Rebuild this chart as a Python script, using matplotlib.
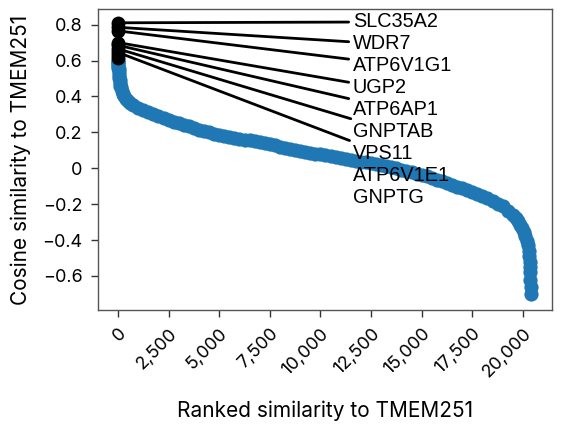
import matplotlib.pyplot as plt

# top-ranked genes (ranks 0..8) and their similarity
genes = ['SLC35A2', 'WDR7', 'ATP6V1G1', 'UGP2', 'ATP6AP1', 'GNPTAB', 'VPS11', 'ATP6V1E1', 'GNPTG']
gene_sim = [0.81, 0.785, 0.765, 0.70, 0.685, 0.665, 0.645, 0.63, 0.615]
n_linked = 7  # only the first seven labels have a connector line

# remaining genes
rank_rest = [9, 12, 16, 20, 25, 30, 40, 50, 65, 80, 100, 125, 150, 200, 250, 300, 400, 500,
             600, 750, 1000, 1250, 1500, 1750, 2000, 2250, 2500, 2750, 3000, 3250, 3500,
             3750, 4000, 4250, 4500, 4750, 5000, 5250, 5500, 5750, 6000, 6250, 6500, 6750,
             7000, 7250, 7500, 7750, 8000, 8250, 8500, 8750, 9000, 9250, 9500, 9750, 10000,
             10250, 10500, 10750, 11000, 11250, 11500, 11750, 12000, 12250, 12500, 12750,
             13000, 13250, 13500, 13750, 14000, 14250, 14500, 14750, 15000, 15250, 15500,
             15750, 16000, 16250, 16500, 16750, 17000, 17250, 17500, 17750, 18000, 18250,
             18500, 18750, 19000, 19250, 19500, 19650, 19750, 19850, 19950, 20050, 20125,
             20200, 20250, 20290, 20320, 20340, 20355, 20365, 20372, 20378, 20385]
sim_rest = [0.60, 0.59, 0.58, 0.57, 0.56, 0.55, 0.535, 0.52, 0.505, 0.49, 0.475, 0.46, 0.45,
            0.43, 0.415, 0.40, 0.385, 0.373, 0.364, 0.352, 0.338, 0.326, 0.315, 0.303, 0.292,
            0.281, 0.270, 0.260, 0.250, 0.241, 0.233, 0.224, 0.214, 0.207, 0.200, 0.193,
            0.187, 0.181, 0.176, 0.170, 0.165, 0.160, 0.155, 0.150, 0.144, 0.139, 0.133,
            0.127, 0.121, 0.115, 0.109, 0.103, 0.097, 0.092, 0.087, 0.082, 0.077, 0.072,
            0.067, 0.062, 0.057, 0.052, 0.047, 0.042, 0.037, 0.032, 0.027, 0.022, 0.017,
            0.011, 0.005, -0.001, -0.008, -0.015, -0.022, -0.030, -0.038, -0.046, -0.055,
            -0.064, -0.073, -0.082, -0.092, -0.102, -0.112, -0.122, -0.133, -0.144, -0.155,
            -0.168, -0.182, -0.197, -0.213, -0.236, -0.262, -0.280, -0.296, -0.315, -0.335,
            -0.357, -0.378, -0.405, -0.43, -0.46, -0.49, -0.52, -0.55, -0.58, -0.62, -0.66,
            -0.70]

label_x = 11600
label_y = [0.815, 0.693, 0.571, 0.449, 0.327, 0.205, 0.083, -0.039, -0.161]

xticks = [0, 2500, 5000, 7500, 10000, 12500, 15000, 17500, 20000]
xtick_labels = ['0', '2,500', '5,000', '7,500', '10,000', '12,500', '15,000', '17,500', '20,000']
yticks = [-0.6, -0.4, -0.2, 0, 0.2, 0.4, 0.6, 0.8]
ytick_labels = ['\u22120.6', '\u22120.4', '\u22120.2', '0', '0.2', '0.4', '0.6', '0.8']

plt.rcParams['font.family'] = ['Inter', 'DejaVu Sans']

fig = plt.figure(figsize=(5.66, 4.28), dpi=100)
ax = fig.add_axes([0.173, 0.276, 0.802, 0.703])

ax.scatter(rank_rest, sim_rest, s=105, color='#1f77b4', linewidths=0, zorder=2)
ax.scatter(range(len(genes)), gene_sim, s=100, color='black', linewidths=0, zorder=3)

for i, g in enumerate(genes):
    arrow = dict(arrowstyle='-', color='black', lw=2, shrinkA=1, shrinkB=1) if i < n_linked else None
    ax.annotate(g, xy=(i, gene_sim[i]), xytext=(label_x, label_y[i]),
                ha='left', va='center', fontsize=14.3, family='Liberation Sans',
                arrowprops=arrow, zorder=4)

ax.set_xlim(-990, 21430)
ax.set_ylim(-0.789, 0.887)
ax.set_xticks(xticks)
ax.set_xticklabels(xtick_labels, rotation=45, ha='right', rotation_mode='anchor', fontsize=13)
ax.set_yticks(yticks)
ax.set_yticklabels(ytick_labels, fontsize=13)
ax.tick_params(length=5, width=1, color='#333333', pad=6)
for s in ax.spines.values():
    s.set_color('#555555')
    s.set_linewidth(1)

ax.set_xlabel('Ranked similarity to TMEM251', fontsize=15, labelpad=14)
ax.set_ylabel('Cosine similarity to TMEM251', fontsize=15, labelpad=8)

fig.savefig('out.png', dpi=100)
